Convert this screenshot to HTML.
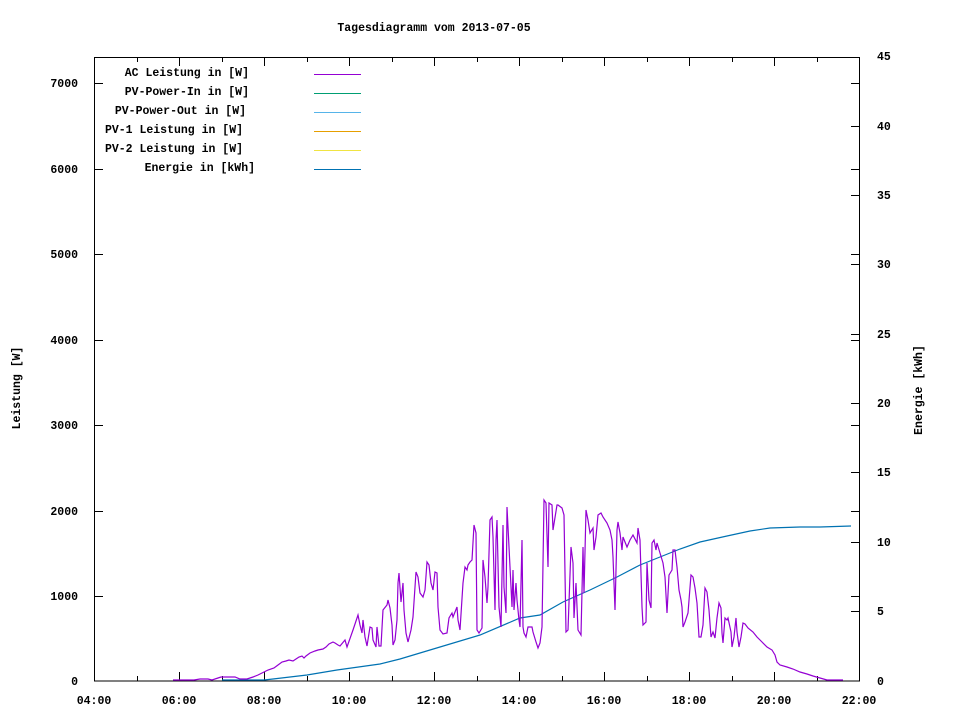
<!DOCTYPE html>
<html><head><meta charset="utf-8"><style>
html,body{margin:0;padding:0;background:#fff;}
svg text{font-family:"Liberation Mono","DejaVu Sans Mono",monospace;font-weight:bold;font-size:11.5px;fill:#000;}
</style></head><body>
<svg width="960" height="720" viewBox="0 0 960 720" xmlns="http://www.w3.org/2000/svg">
<text x="434" y="31" text-anchor="middle">Tagesdiagramm vom 2013-07-05</text>
<g stroke="#000" stroke-width="1" fill="none" shape-rendering="crispEdges">
<rect x="94.5" y="57.5" width="765" height="623.5"/>
<!-- left y ticks -->
<path d="M94 596.5h9M94 511.5h9M94 425.5h9M94 340.5h9M94 254.5h9M94 169.5h9M94 83.5h9"/>
<!-- right mirrored y1 ticks -->
<path d="M860 596.5h-9M860 511.5h-9M860 425.5h-9M860 340.5h-9M860 254.5h-9M860 169.5h-9M860 83.5h-9"/>
<!-- y2 ticks -->
<path d="M860 611.5h-9M860 542.5h-9M860 472.5h-9M860 403.5h-9M860 334.5h-9M860 264.5h-9M860 195.5h-9M860 126.5h-9"/>
<!-- x ticks bottom -->
<path d="M179.5 681v-9M264.5 681v-9M349.5 681v-9M434.5 681v-9M519.5 681v-9M604.5 681v-9M689.5 681v-9M774.5 681v-9"/>
<path d="M137.5 681v-5M222.5 681v-5M307.5 681v-5M392.5 681v-5M477.5 681v-5M562.5 681v-5M647.5 681v-5M732.5 681v-5M817.5 681v-5"/>
<!-- x ticks top -->
<path d="M179.5 57v9M264.5 57v9M349.5 57v9M434.5 57v9M519.5 57v9M604.5 57v9M689.5 57v9M774.5 57v9"/>
<path d="M137.5 57v5M222.5 57v5M307.5 57v5M392.5 57v5M477.5 57v5M562.5 57v5M647.5 57v5M732.5 57v5M817.5 57v5"/>
</g>
<g text-anchor="end">
<text x="78" y="685">0</text><text x="78" y="600">1000</text><text x="78" y="515">2000</text><text x="78" y="429">3000</text><text x="78" y="344">4000</text><text x="78" y="258">5000</text><text x="78" y="173">6000</text><text x="78" y="87">7000</text>
</g>
<g>
<text x="877" y="685">0</text><text x="877" y="615">5</text><text x="877" y="546">10</text><text x="877" y="476">15</text><text x="877" y="407">20</text><text x="877" y="338">25</text><text x="877" y="268">30</text><text x="877" y="199">35</text><text x="877" y="130">40</text><text x="877" y="60">45</text>
</g>
<g text-anchor="middle">
<text x="94" y="704">04:00</text><text x="179" y="704">06:00</text><text x="264" y="704">08:00</text><text x="349" y="704">10:00</text><text x="434" y="704">12:00</text><text x="519" y="704">14:00</text><text x="604" y="704">16:00</text><text x="689" y="704">18:00</text><text x="774" y="704">20:00</text><text x="859" y="704">22:00</text>
</g>
<text transform="translate(20,388) rotate(-90)" text-anchor="middle">Leistung [W]</text>
<text transform="translate(922,390) rotate(-90)" text-anchor="middle">Energie [kWh]</text>
<g text-anchor="end">
<text x="249" y="76">AC Leistung in [W]</text>
<text x="249" y="95">PV-Power-In in [W]</text>
<text x="246" y="114">PV-Power-Out in [W]</text>
<text x="243" y="133">PV-1 Leistung in [W]</text>
<text x="243" y="152">PV-2 Leistung in [W]</text>
<text x="255" y="171">Energie in [kWh]</text>
</g>
<g stroke-width="1" shape-rendering="crispEdges">
<path d="M314 74.5h47" stroke="#9400d3"/>
<path d="M314 93.5h47" stroke="#009e73"/>
<path d="M314 112.5h47" stroke="#56b4e9"/>
<path d="M314 131.5h47" stroke="#e69f00"/>
<path d="M314 150.5h47" stroke="#f0e442"/>
<path d="M314 169.5h47" stroke="#0072b2"/>
</g>
<polyline fill="none" stroke="#0072b2" stroke-width="1.2" points="222,680 264,680 273,679 307,675 337,670 380,664 400,659 440,647 480,635 520,618 540,615 563,602 590,590 617,577 640,565 660,557 680,549 700,542 727,536 750,531 770,528 800,527 820,527 851,526"/>
<polyline fill="none" stroke="#9400d3" stroke-width="1.2" points="173,680 194,680 200,679 208,679 212,680 218,678 221,677 235,677 240,679 247,679 253,677 258,675 262,673 268,670 274,668 278,665 282,662 286,661 289,660 293,661 296,659 299,657 302,656 304,658 306,656 310,653 315,651 318,650 323,649 326,647 329,644 333,642 335,643 338,645 340,646 345,640 347,647 353,630 358,615 360,625 362,633 363,620 365,637 367,646 370,627 372,628 373,640 376,647 377,627 379,646 381,646 383,610 387,605 388,600 390,608 392,625 393,645 395,640 397,620 398,583 399,573 401,602 403,583 404,610 406,633 408,642 411,630 413,617 416,572 418,577 420,593 423,597 425,590 427,562 429,565 431,583 433,590 435,572 437,573 438,607 440,630 443,634 447,633 449,618 452,613 453,617 455,612 457,607 458,620 460,630 463,583 465,567 467,570 468,565 470,562 472,560 474,525 476,533 477,630 479,633 482,628 483,560 485,577 487,603 488,587 490,520 492,517 493,537 495,610 496,540 497,520 499,607 501,627 503,525 504,587 506,613 507,507 508,527 510,567 512,607 513,570 514,610 516,583 517,600 519,620 520,627 522,540 523,627 524,633 526,637 528,627 532,627 533,632 536,642 538,648 540,643 542,627 544,500 546,503 548,567 549,503 552,505 553,530 557,505 558,505 562,508 564,515 566,632 568,630 571,547 573,563 574,618 576,583 578,630 581,635 583,547 584,593 586,510 588,520 590,533 593,528 594,550 596,537 598,515 601,513 603,517 607,523 610,530 612,540 613,557 615,610 617,530 618,522 620,533 622,550 623,537 627,547 630,540 633,535 637,543 638,528 640,540 642,607 643,625 646,622 647,563 649,600 651,608 652,543 654,540 656,550 657,543 660,553 663,563 665,577 667,613 669,575 672,570 673,550 675,550 677,567 679,590 681,600 682,607 683,627 685,622 688,613 691,575 693,577 695,588 697,603 699,637 701,637 703,625 705,588 707,592 709,610 711,637 713,632 715,638 717,618 719,603 721,608 722,633 723,643 725,618 727,620 728,618 731,632 732,647 734,637 736,618 737,632 739,647 741,637 743,623 745,624 748,628 753,632 757,637 762,642 767,647 772,650 775,655 777,662 780,665 787,667 793,669 800,672 807,674 813,676 820,678 827,680 843,680"/>
</svg>
</body></html>
